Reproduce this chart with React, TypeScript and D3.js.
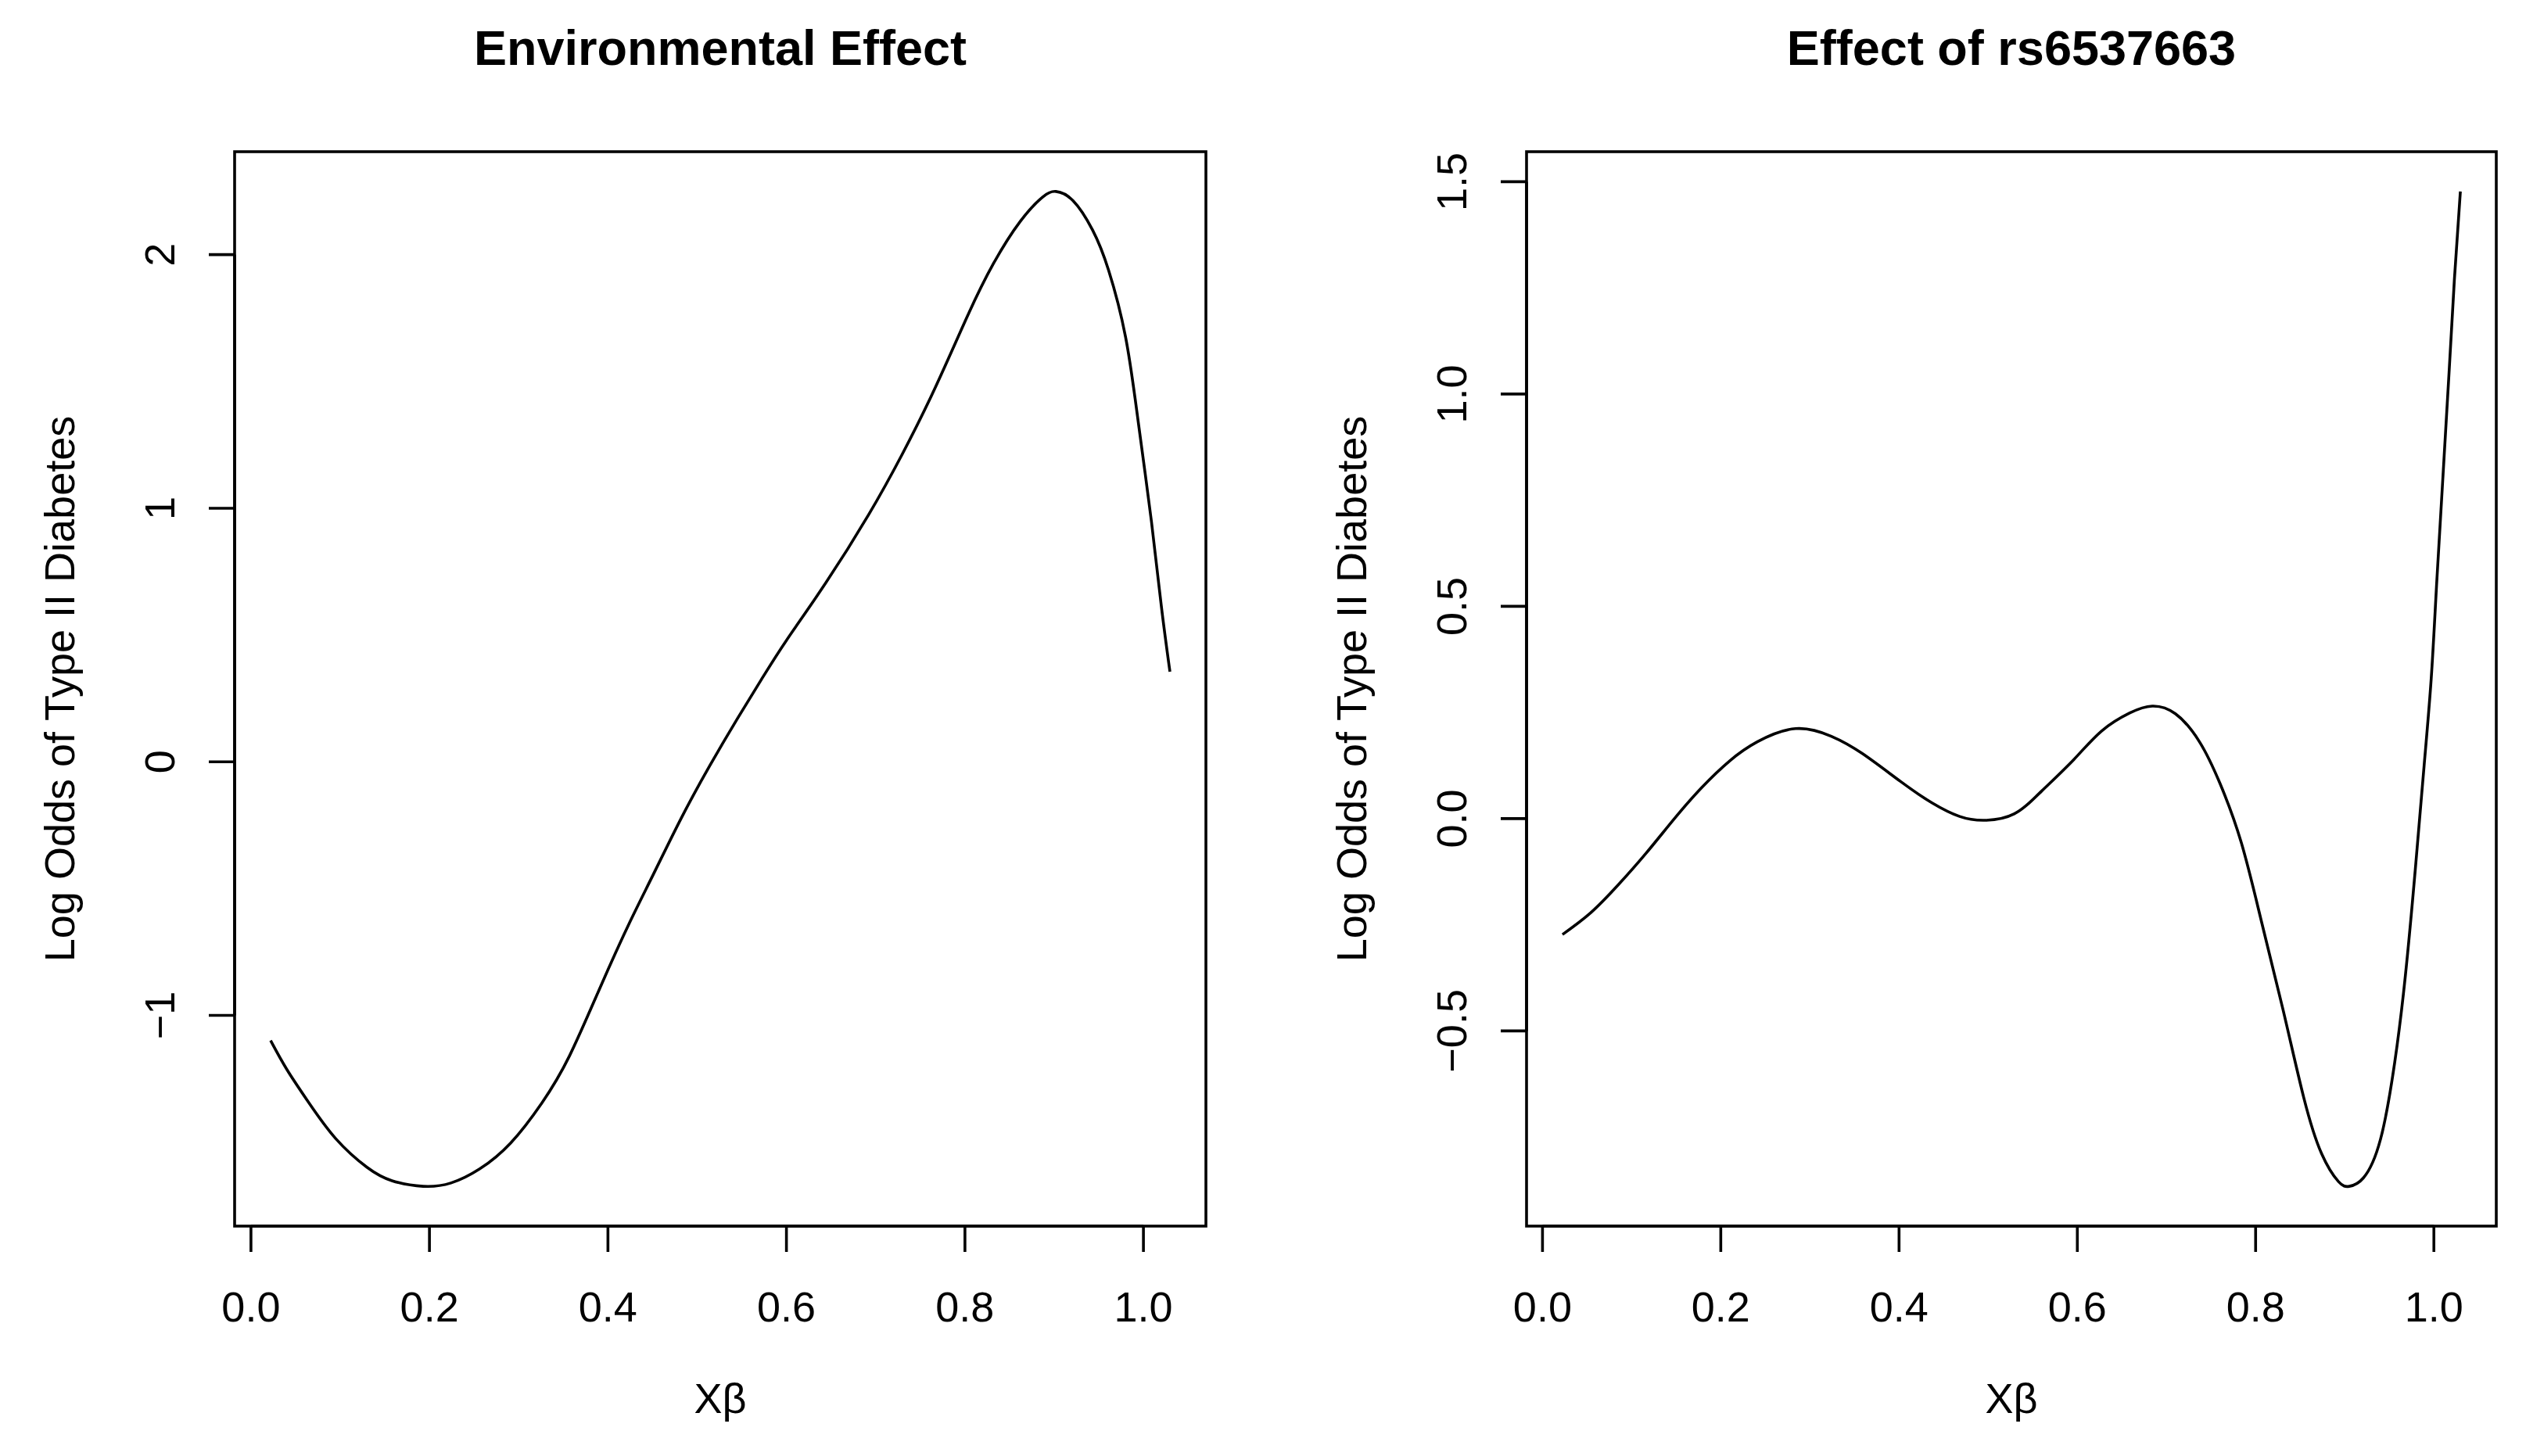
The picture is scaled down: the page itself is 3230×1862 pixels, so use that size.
import React from "react";
import * as d3 from "d3";

// ---------- data ----------
const envX = [0.022, 0.04, 0.064, 0.095, 0.13, 0.158, 0.193, 0.224, 0.256, 0.291, 0.326, 0.357, 0.392, 0.424, 0.451, 0.482, 0.514, 0.545, 0.572, 0.6, 0.644, 0.692, 0.729, 0.766, 0.803, 0.832, 0.862, 0.887, 0.902, 0.921, 0.943, 0.961, 0.98, 0.994, 1.009, 1.02, 1.0297];
const envY = [-1.099, -1.212, -1.34, -1.486, -1.599, -1.652, -1.674, -1.661, -1.606, -1.503, -1.345, -1.159, -0.884, -0.636, -0.443, -0.223, -0.016, 0.17, 0.325, 0.479, 0.705, 0.974, 1.208, 1.47, 1.759, 1.965, 2.131, 2.227, 2.249, 2.213, 2.097, 1.938, 1.675, 1.345, 0.947, 0.616, 0.355];

const snpX = [0.0224, 0.054, 0.085, 0.116, 0.148, 0.179, 0.21, 0.241, 0.284, 0.324, 0.359, 0.402, 0.437, 0.468, 0.496, 0.529, 0.56, 0.596, 0.627, 0.659, 0.684, 0.71, 0.737, 0.76, 0.784, 0.807, 0.831, 0.854, 0.874, 0.893, 0.905, 0.921, 0.94, 0.956, 0.968, 0.979, 0.989, 0.997, 1.003, 1.01, 1.017, 1.023, 1.0297];
const snpY = [-0.273, -0.222, -0.156, -0.082, 0.0, 0.074, 0.136, 0.181, 0.212, 0.194, 0.153, 0.087, 0.037, 0.005, -0.004, 0.011, 0.065, 0.139, 0.206, 0.249, 0.265, 0.247, 0.181, 0.083, -0.057, -0.246, -0.452, -0.657, -0.789, -0.855, -0.866, -0.846, -0.756, -0.575, -0.37, -0.123, 0.124, 0.33, 0.55, 0.8, 1.05, 1.27, 1.477];

const xTicks = [0, 0.2, 0.4, 0.6, 0.8, 1.0];
const xTickLabels = ["0.0", "0.2", "0.4", "0.6", "0.8", "1.0"];
const envYTicks = [-1, 0, 1, 2];
const envYTickLabels = ["\u22121", "0", "1", "2"];
const snpYTicks = [-0.5, 0, 0.5, 1.0, 1.5];
const snpYTickLabels = ["\u22120.5", "0.0", "0.5", "1.0", "1.5"];

const titles = ["Environmental Effect", "Effect of rs6537663"];
const xLabel = "X\u03b2";
const yLabel = "Log Odds of Type II Diabetes";

// ---------- layout ----------
const W = 3230;
const H = 1862;
const FONT = "'Liberation Sans', Arial, Helvetica, sans-serif";
const BASE = 54;
const TITLE_SIZE = 63;
const LW = 3.6;
const TICK = 33;

function rExtend(ext: [number, number]): [number, number] {
  const d = ext[1] - ext[0];
  return [ext[0] - 0.04 * d, ext[1] + 0.04 * d];
}

type PanelProps = {
  left: number;
  right: number;
  top: number;
  bottom: number;
  xs: number[];
  ys: number[];
  yTicks: number[];
  yTickLabels: string[];
  title: string;
};

function Panel(p: PanelProps) {
  const x = d3
    .scaleLinear()
    .domain(rExtend(d3.extent(p.xs) as [number, number]))
    .range([p.left, p.right]);
  const y = d3
    .scaleLinear()
    .domain(rExtend(d3.extent(p.ys) as [number, number]))
    .range([p.bottom, p.top]);
  const pts = p.xs.map((v, i) => [v, p.ys[i]] as [number, number]);
  const line = d3
    .line<[number, number]>()
    .x((d) => x(d[0]))
    .y((d) => y(d[1]))
    .curve(d3.curveNatural);
  const cx = (p.left + p.right) / 2;
  const cy = (p.top + p.bottom) / 2;
  const tickLabelX = p.left - 77;
  const yTitleX = p.left - 205;
  return (
    <g>
      <text x={cx} y={83} textAnchor="middle" fontFamily={FONT} fontWeight="bold" fontSize={TITLE_SIZE}>
        {p.title}
      </text>
      <rect
        x={p.left}
        y={p.top}
        width={p.right - p.left}
        height={p.bottom - p.top}
        fill="none"
        stroke="#000"
        strokeWidth={LW}
      />
      <path d={line(pts) || ""} fill="none" stroke="#000" strokeWidth={LW} strokeLinejoin="round" />
      {/* x axis */}
      <line
        x1={x(xTicks[0])}
        x2={x(xTicks[xTicks.length - 1])}
        y1={p.bottom}
        y2={p.bottom}
        stroke="#000"
        strokeWidth={LW}
      />
      {xTicks.map((t, i) => (
        <g key={"xt" + i}>
          <line x1={x(t)} x2={x(t)} y1={p.bottom} y2={p.bottom + TICK} stroke="#000" strokeWidth={LW} />
          <text x={x(t)} y={1690} textAnchor="middle" fontFamily={FONT} fontSize={BASE}>
            {xTickLabels[i]}
          </text>
        </g>
      ))}
      {/* y axis */}
      <line
        x1={p.left}
        x2={p.left}
        y1={y(p.yTicks[0])}
        y2={y(p.yTicks[p.yTicks.length - 1])}
        stroke="#000"
        strokeWidth={LW}
      />
      {p.yTicks.map((t, i) => (
        <g key={"yt" + i}>
          <line x1={p.left - TICK} x2={p.left} y1={y(t)} y2={y(t)} stroke="#000" strokeWidth={LW} />
          <text
            transform={`translate(${tickLabelX},${y(t)}) rotate(-90)`}
            textAnchor="middle"
            fontFamily={FONT}
            fontSize={BASE}
          >
            {p.yTickLabels[i]}
          </text>
        </g>
      ))}
      <text x={cx} y={1807} textAnchor="middle" fontFamily={FONT} fontSize={BASE}>
        {xLabel}
      </text>
      <text
        transform={`translate(${yTitleX},${cy}) rotate(-90)`}
        textAnchor="middle"
        fontFamily={FONT}
        fontSize={BASE}
      >
        {yLabel}
      </text>
    </g>
  );
}

export default function App() {
  return (
    <svg
      width={W}
      height={H}
      viewBox={`0 0 ${W} ${H}`}
      style={{ position: "absolute", left: 0, top: 0, background: "#fff" }}
    >
      <rect x={0} y={0} width={W} height={H} fill="#fff" />
      <Panel
        left={300}
        right={1542}
        top={194}
        bottom={1568}
        xs={envX}
        ys={envY}
        yTicks={envYTicks}
        yTickLabels={envYTickLabels}
        title={titles[0]}
      />
      <Panel
        left={1952}
        right={3192}
        top={194}
        bottom={1568}
        xs={snpX}
        ys={snpY}
        yTicks={snpYTicks}
        yTickLabels={snpYTickLabels}
        title={titles[1]}
      />
    </svg>
  );
}
